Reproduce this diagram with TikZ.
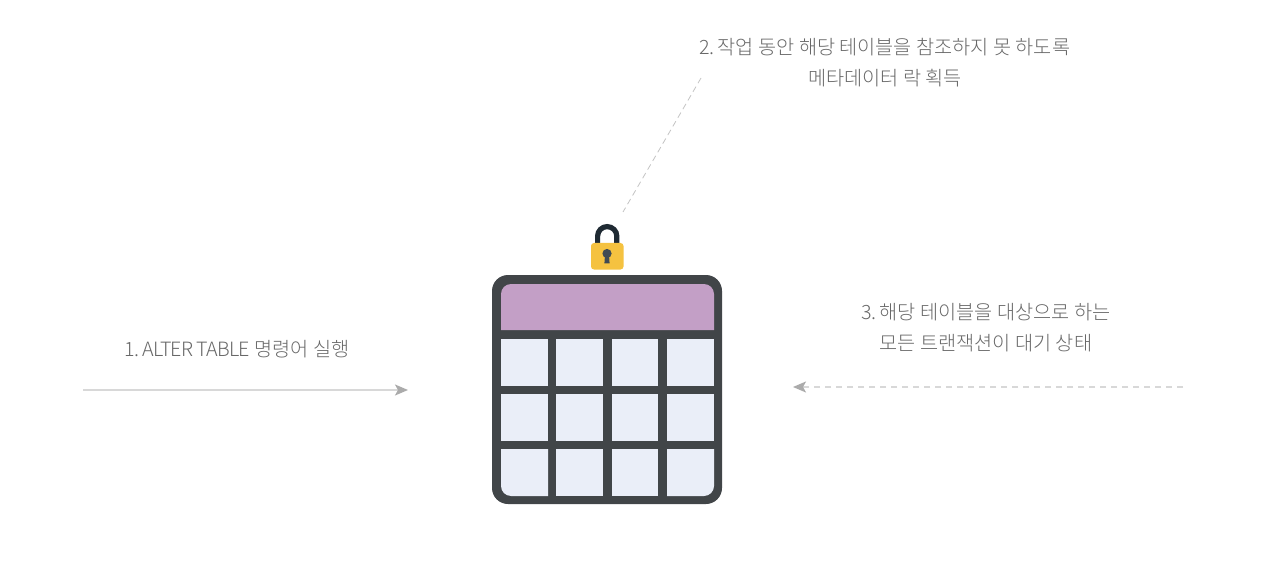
\documentclass[tikz,border=0pt]{standalone}
\usepackage{fontspec}
\setmainfont{Noto Sans CJK KR Light}
\newfontfamily\latinfit[LetterSpace=-4]{Noto Sans CJK KR Light}
\usetikzlibrary{arrows.meta}
\definecolor{txt}{HTML}{686868}
\definecolor{frame}{HTML}{414548}
\definecolor{head}{HTML}{C39FC6}
\definecolor{cellc}{HTML}{EAEEF8}
\definecolor{lockb}{HTML}{F5C240}
\definecolor{lockd}{HTML}{1F2A33}
\definecolor{keyc}{HTML}{3F4A54}
\definecolor{linec}{HTML}{D8D8D8}
\definecolor{tipc}{HTML}{ABABAB}
\definecolor{leadc}{HTML}{C4C4C4}
\tikzset{
 lbl/.style={text=txt,font=\fontsize{19.7}{31}\selectfont,align=center,inner sep=0pt},
 flow/.style={draw=linec,line width=1.5pt,-{Stealth[length=13pt,width=11pt,inset=3pt,color=tipc]}},
 wait/.style={flow,dash pattern=on 6pt off 5pt},
 leader/.style={draw=leadc,line width=.8pt,dash pattern=on 6pt off 4pt},
 cellbox/.style={fill=cellc,draw=none}
}
\begin{document}
\begin{tikzpicture}[x=1pt,y=-1pt]
\useasboundingbox (0,0) rectangle (1280,564);
\fill[white] (0,0) rectangle (1280,564);
% table
\fill[frame,rounded corners=16pt] (492,275) rectangle (722,504);
\fill[head] (501,330) -- (501,294) .. controls (501,288.5) and (505.5,284) .. (511,284) -- (704,284) .. controls (709.5,284) and (714,288.5) .. (714,294) -- (714,330) -- cycle;
\foreach \a/\b in {501/548,556/603,612/658,667/714}{
 \foreach \c/\d in {339/386,394/441}{
  \fill[cellbox] (\a,\c) rectangle (\b,\d);
 }
}
\fill[cellbox] (501,449) -- (548,449) -- (548,496) -- (511,496) .. controls (505.5,496) and (501,491.5) .. (501,486) -- cycle;
\fill[cellbox] (556,449) rectangle (603,496);
\fill[cellbox] (612,449) rectangle (658,496);
\fill[cellbox] (667,449) -- (714,449) -- (714,486) .. controls (714,491.5) and (709.5,496) .. (704,496) -- (667,496) -- cycle;
% lock
\draw[lockd,line width=5.2pt] (597.6,244) -- (597.6,236.2) .. controls (597.6,230.9) and (601.9,226.6) .. (607.2,226.6) .. controls (612.5,226.6) and (616.8,230.9) .. (616.8,236.2) -- (616.8,244);
\fill[lockb,rounded corners=3pt] (591,243) rectangle (623.5,269.5);
\fill[keyc] (607,253.5) circle[radius=4.6];
\fill[keyc] (605,255) -- (609,255) -- (609.6,263.5) -- (604.4,263.5) -- cycle;
% labels
\node[lbl] (t1) at (237,349) {{\latinfit 1.\,ALTER TABLE} 명령어 실행};
\node[lbl] (t2) at (885,62.7) {{\latinfit 2.\,}작업 동안 해당 테이블을 참조하지 못 하도록\\메타데이터 락 획득};
\node[lbl] (t3) at (986,327.7) {{\latinfit 3.\,}해당 테이블을 대상으로 하는\\모든 트랜잭션이 대기 상태};
% connectors
\coordinate (a1s) at (83,390);
\coordinate (a1e) at (408,390);
\coordinate (a3s) at (1183,387);
\coordinate (a3e) at (793,387);
\coordinate (lds) at (701,78);
\coordinate (lde) at (623,212);
\draw[flow] (a1s) -- (a1e);
\draw[wait] (a3s) -- (a3e);
\draw[leader] (lds) -- (lde);
\end{tikzpicture}
\end{document}
